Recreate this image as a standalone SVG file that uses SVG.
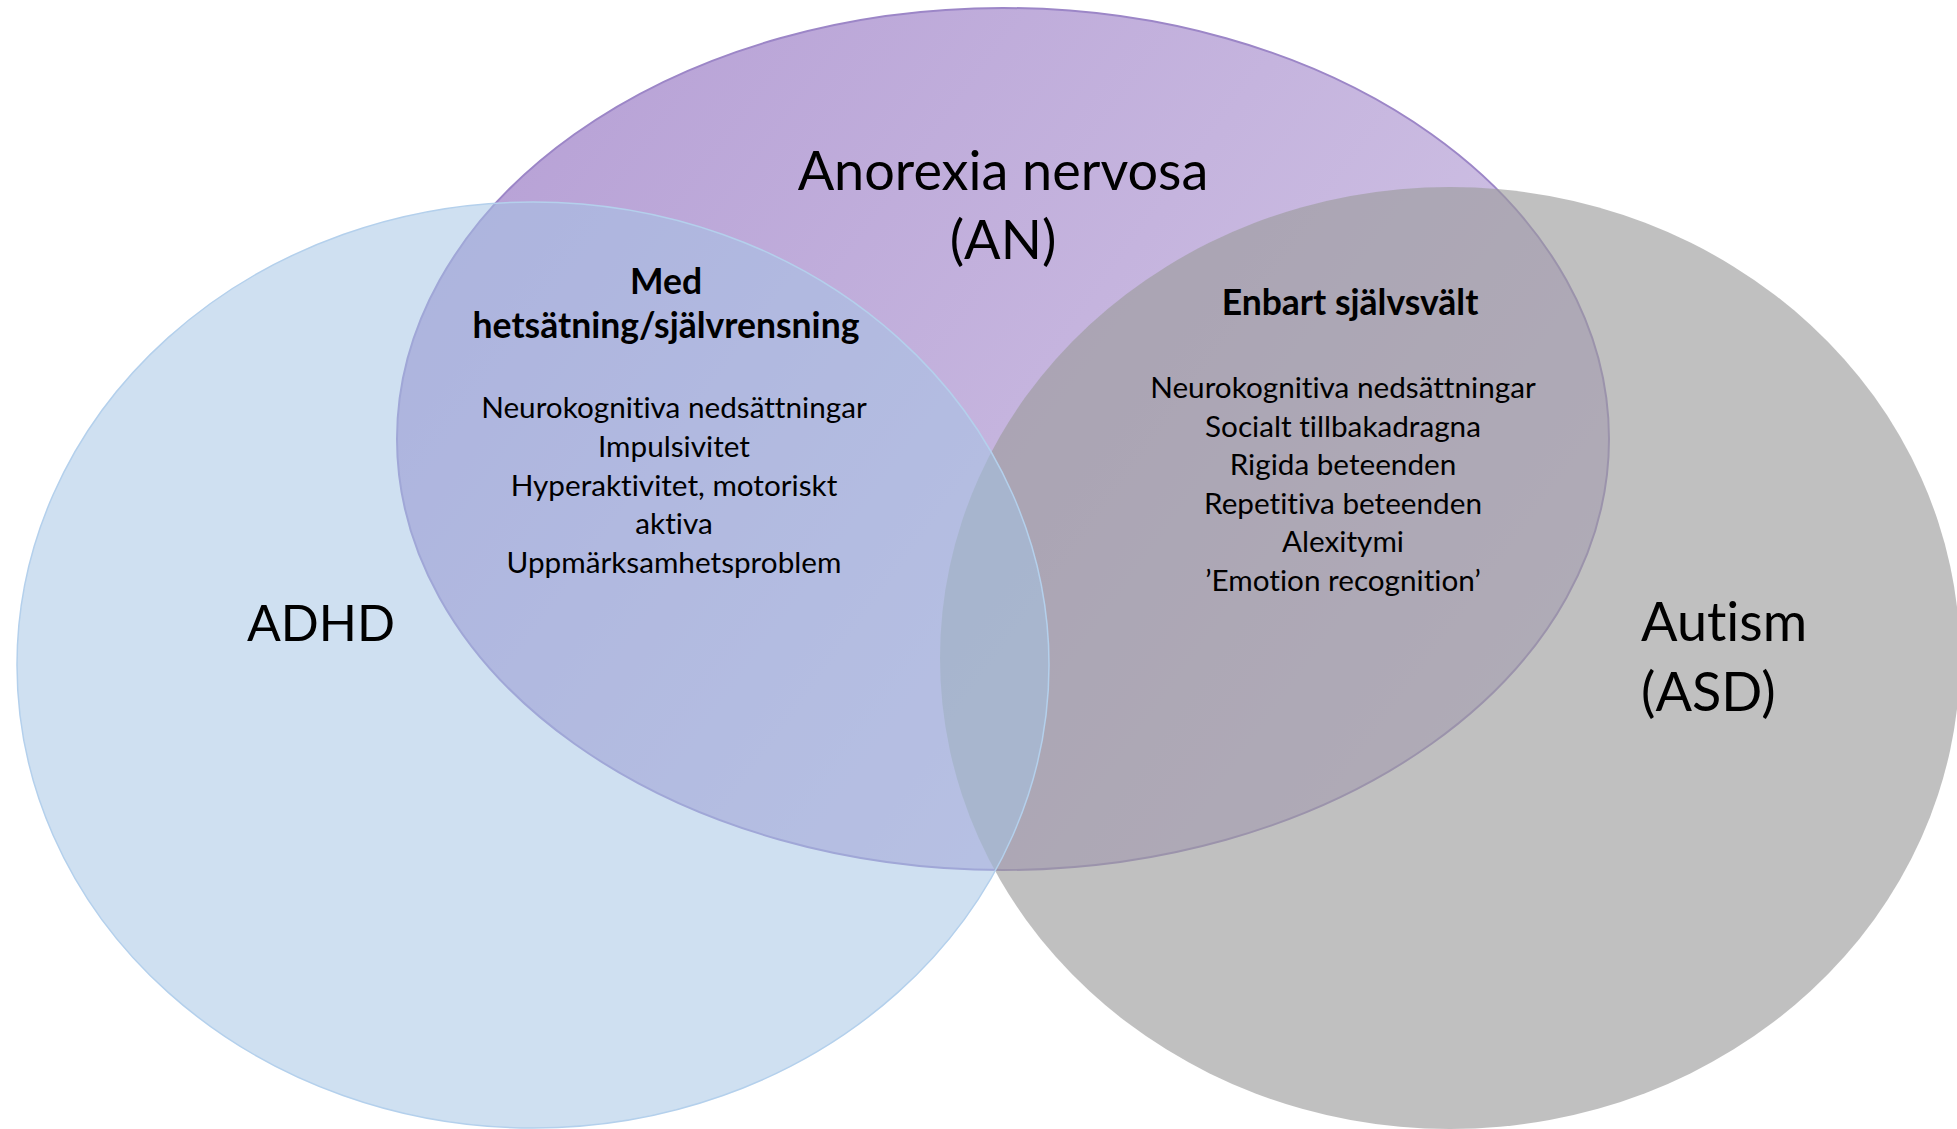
<svg xmlns="http://www.w3.org/2000/svg" width="1957" height="1129" viewBox="0 0 1957 1129">
  <defs>
    <linearGradient id="anGrad" gradientUnits="userSpaceOnUse" x1="400" y1="0" x2="1600" y2="870">
      <stop offset="0" stop-color="#B49DD4"/>
      <stop offset="1" stop-color="#D6CBE8"/>
    </linearGradient>
  </defs>
  <style>
    text { font-family: Lato, "Liberation Sans", sans-serif; fill: #000; font-variant-ligatures: none; }
    .title { font-size: 54px; }
    .head { font-size: 35.5px; font-weight: bold; text-anchor: middle; }
    .item { font-size: 29.7px; text-anchor: middle; }
    .mid { text-anchor: middle; }
  </style>
  <rect width="1957" height="1129" fill="#FFFFFF"/>
  <g id="node-an">
    <ellipse cx="1003" cy="439" rx="606" ry="431" fill="url(#anGrad)" stroke="#9C86C7" stroke-width="2"/>
    <text class="title mid" x="1003" y="190">Anorexia nervosa</text>
    <text class="title mid" x="1003" y="259">(AN)</text>
  </g>
  <g id="node-asd">
    <ellipse cx="1450" cy="658" rx="510" ry="471" fill="#9B9B9B" fill-opacity="0.63"/>
    <text class="title" x="1641" y="641">Autism</text>
    <text class="title" x="1641" y="711">(ASD)</text>
  </g>
  <g id="node-adhd">
    <ellipse cx="533" cy="665" rx="516" ry="463" fill="#A4C4E4" fill-opacity="0.53" stroke="#B4D0EC" stroke-width="1.5"/>
    <text class="title mid" x="321" y="641" style="font-size:50px">ADHD</text>
  </g>
  <g id="overlap-an-adhd">
    <text class="head" x="666" y="294">Med</text>
    <text class="head" x="666" y="338">hetsätning/självrensning</text>
    <text class="item" x="674" y="418">Neurokognitiva nedsättningar</text>
    <text class="item" x="674" y="457">Impulsivitet</text>
    <text class="item" x="674" y="496">Hyperaktivitet, motoriskt</text>
    <text class="item" x="674" y="534">aktiva</text>
    <text class="item" x="674" y="573">Uppmärksamhetsproblem</text>
  </g>
  <g id="overlap-an-asd">
    <text class="head" x="1350" y="315">Enbart självsvält</text>
    <text class="item" x="1343" y="398">Neurokognitiva nedsättningar</text>
    <text class="item" x="1343" y="436.5">Socialt tillbakadragna</text>
    <text class="item" x="1343" y="475">Rigida beteenden</text>
    <text class="item" x="1343" y="513.5">Repetitiva beteenden</text>
    <text class="item" x="1343" y="552">Alexitymi</text>
    <text class="item" x="1343" y="590.5">’Emotion recognition’</text>
  </g>
</svg>
